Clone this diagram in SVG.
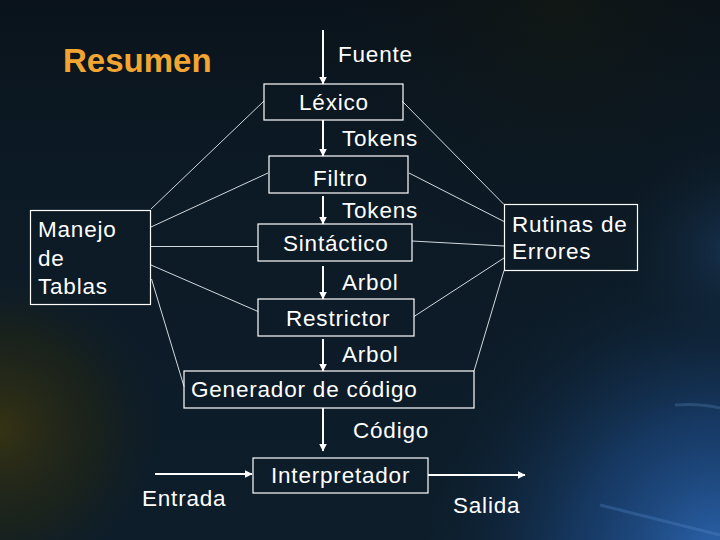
<svg xmlns="http://www.w3.org/2000/svg" width="720" height="540" viewBox="0 0 720 540">
<defs>
<style>
.box{fill:none;stroke:#ffffff;stroke-width:1.2}
.t{font-family:"Liberation Sans",Arial,sans-serif;font-size:22.5px;letter-spacing:0.8px;fill:#ffffff}
.title{font-family:"Liberation Sans",Arial,sans-serif;font-size:33px;font-weight:bold;fill:#f2a631}
.thin{stroke:#e8eef2;stroke-width:0.9;fill:none}
.arr{stroke:#ffffff;stroke-width:2;fill:none;marker-end:url(#ah)}
</style>
<marker id="ah" viewBox="0 0 8 8" refX="7.5" refY="4" markerWidth="4" markerHeight="4" markerUnits="strokeWidth" orient="auto">
<path d="M0,0 L8,4 L0,8 z" fill="#ffffff"/>
</marker>
<linearGradient id="bg" x1="0" y1="0" x2="0" y2="1">
<stop offset="0" stop-color="#0a131b"/>
<stop offset="0.3" stop-color="#0c1a25"/>
<stop offset="1" stop-color="#0d1d2a"/>
</linearGradient>
<radialGradient id="blue" cx="720" cy="560" r="320" gradientUnits="userSpaceOnUse">
<stop offset="0" stop-color="#2e6ab8" stop-opacity="0.95"/>
<stop offset="0.45" stop-color="#1c4a86" stop-opacity="0.6"/>
<stop offset="1" stop-color="#0d1d2a" stop-opacity="0"/>
</radialGradient>
<radialGradient id="blue2" cx="730" cy="250" r="120" gradientUnits="userSpaceOnUse">
<stop offset="0" stop-color="#1d3e66" stop-opacity="0.6"/>
<stop offset="1" stop-color="#0d1d2a" stop-opacity="0"/>
</radialGradient>
<radialGradient id="olive" cx="0" cy="430" r="170" gradientUnits="userSpaceOnUse">
<stop offset="0" stop-color="#3a3512" stop-opacity="0.9"/>
<stop offset="0.6" stop-color="#232612" stop-opacity="0.5"/>
<stop offset="1" stop-color="#0d1d2a" stop-opacity="0"/>
</radialGradient>
<radialGradient id="top" cx="560" cy="0" r="260" gradientUnits="userSpaceOnUse">
<stop offset="0" stop-color="#15190f" stop-opacity="0.6"/>
<stop offset="1" stop-color="#0a131b" stop-opacity="0"/>
</radialGradient>
</defs>
<g id="background">
<rect width="720" height="540" fill="url(#bg)"/>
<rect width="720" height="540" fill="url(#olive)"/>
<rect width="720" height="540" fill="url(#blue)"/>
<rect width="720" height="540" fill="url(#blue2)"/>
<rect width="720" height="540" fill="url(#top)"/>
<path d="M600,505 Q660,520 720,535" stroke="#5a8ccc" stroke-opacity="0.3" stroke-width="3" fill="none"/>
<path d="M675,405 Q700,403 720,408" stroke="#6a9ad0" stroke-opacity="0.25" stroke-width="3" fill="none"/>
</g>
<text class="title" x="63" y="72">Resumen</text>
<g id="connectors">
<line class="arr" x1="323" y1="30" x2="323" y2="84"/>
<line class="arr" x1="323" y1="120" x2="323" y2="156"/>
<line class="arr" x1="323" y1="196" x2="323" y2="224"/>
<line class="arr" x1="323" y1="266" x2="323" y2="299"/>
<line class="arr" x1="323" y1="339" x2="323" y2="371"/>
<line class="arr" x1="323" y1="408" x2="323" y2="451"/>
<line class="arr" x1="155" y1="474" x2="252" y2="474"/>
<line class="arr" x1="428" y1="475" x2="525" y2="475"/>
<line class="thin" x1="151" y1="209" x2="264" y2="101"/>
<line class="thin" x1="151" y1="227" x2="268" y2="173"/>
<line class="thin" x1="151" y1="246.5" x2="258" y2="246.5"/>
<line class="thin" x1="151" y1="265" x2="258" y2="311.5"/>
<line class="thin" x1="151.5" y1="279" x2="184" y2="386.5"/>
<line class="thin" x1="402" y1="101" x2="504" y2="204.5"/>
<line class="thin" x1="409" y1="173" x2="504" y2="221.5"/>
<line class="thin" x1="412" y1="241" x2="504" y2="246"/>
<line class="thin" x1="414" y1="316.5" x2="504" y2="258"/>
<line class="thin" x1="474" y1="371" x2="504" y2="270.5"/>
</g>
<text class="t" x="338" y="62">Fuente</text>
<g id="lexico"><rect class="box" x="264" y="84" width="139" height="36"/><text class="t" x="299" y="110">Léxico</text></g>
<text class="t" x="342" y="146">Tokens</text>
<g id="filtro"><rect class="box" x="269" y="156" width="139" height="37"/><text class="t" x="313" y="186">Filtro</text></g>
<text class="t" x="342" y="218">Tokens</text>
<g id="sintactico"><rect class="box" x="258" y="224" width="154" height="37"/><text class="t" x="283" y="251">Sintáctico</text></g>
<text class="t" x="342" y="290">Arbol</text>
<g id="restrictor"><rect class="box" x="258" y="299" width="156" height="37"/><text class="t" x="286" y="326">Restrictor</text></g>
<text class="t" x="342" y="362">Arbol</text>
<g id="generador"><rect class="box" x="184" y="371" width="290" height="37"/><text class="t" x="191" y="397">Generador de código</text></g>
<text class="t" x="353" y="438">Código</text>
<g id="interpretador"><rect class="box" x="253" y="458" width="175" height="35"/><text class="t" x="271" y="483">Interpretador</text></g>
<text class="t" x="142" y="506">Entrada</text>
<text class="t" x="453" y="513">Salida</text>
<g id="manejo"><rect class="box" x="30.5" y="210.5" width="120" height="94"/><text class="t" x="38" y="237">Manejo</text><text class="t" x="38" y="265.5">de</text><text class="t" x="38" y="294">Tablas</text></g>
<g id="rutinas"><rect class="box" x="504.5" y="204.5" width="133" height="66"/><text class="t" x="512" y="232">Rutinas de</text><text class="t" x="512" y="259">Errores</text></g>
</svg>
